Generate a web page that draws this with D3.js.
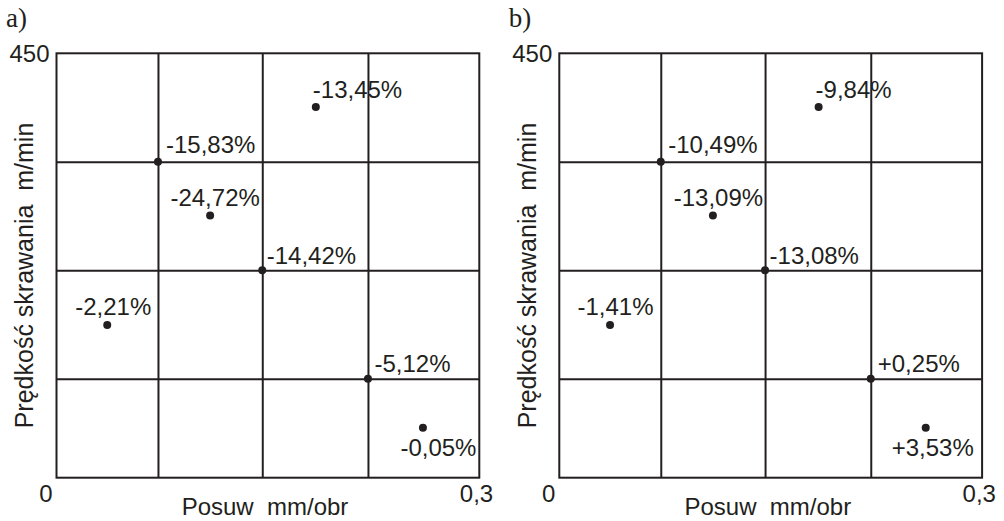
<!DOCTYPE html>
<html>
<head>
<meta charset="utf-8">
<script src="https://cdn.jsdelivr.net/npm/d3@7"></script>
<style>
  html, body { margin: 0; padding: 0; background: #fff; }
  svg { display: block; }
  text { font-family: "Liberation Sans", Arial, sans-serif; fill: #231f20; white-space: pre; }
</style>
</head>
<body>
<svg id="chart" width="1004" height="521"></svg>
<script>
// ---- data ----
const panelNames = ["a)", "b)"];
const xDomain = [0, 0.3];
const yDomain = [0, 450];
const xTickLabels = ["0", "0,3"];
const yTickLabels = ["450"];
const xTitle = "Posuw  mm/obr";
const yTitle = "Prędkość skrawania  m/min";
const gridFeed = [0.072, 0.146, 0.221];
const gridSpeed = [105, 220, 335];
const feed  = [0.072, 0.184, 0.109, 0.146, 0.036, 0.221, 0.260];
const speed = [335,   393,   278,   220,   162,   105,   53];
const changesA = ["-15,83%", "-13,45%", "-24,72%", "-14,42%", "-2,21%", "-5,12%", "-0,05%"];
const changesB = ["-10,49%", "-9,84%", "-13,09%", "-13,08%", "-1,41%", "+0,25%", "+3,53%"];

// ---- layout / style ----
const ink = "#231f20";
const panelOffsets = [56.5, 559.3];
const plotW = 422.8, plotTop = 53.3, plotBottom = 477.7;
const fs = 24;
// label placement: [anchor, dx, dy] per point, per panel
const placeA = [["start", 8, -9], ["start", -3, -9.5], ["middle", 5, -10], ["start", 4.5, -6.5],
                ["middle", 6, -10], ["start", 6.5, -6.5], ["middle", 15.5, 28]];
const placeB = [["start", 7.5, -9], ["start", -3, -9.5], ["middle", 5.5, -10], ["start", 4.5, -6.5],
                ["middle", 5.5, -10], ["start", 7, -6.5], ["middle", 7, 28]];

const svg = d3.select("#chart");
const panels = [
  { name: panelNames[0], labels: changesA, place: placeA, x0: panelOffsets[0] },
  { name: panelNames[1], labels: changesB, place: placeB, x0: panelOffsets[1] }
];

panels.forEach(p => {
  const x = d3.scaleLinear().domain(xDomain).range([p.x0, p.x0 + plotW]);
  const y = d3.scaleLinear().domain(yDomain).range([plotBottom, plotTop]);
  const g = svg.append("g");

  // frame
  g.append("rect")
    .attr("x", x(xDomain[0])).attr("y", y(yDomain[1]))
    .attr("width", x(xDomain[1]) - x(xDomain[0]))
    .attr("height", y(yDomain[0]) - y(yDomain[1]))
    .attr("fill", "none").attr("stroke", ink).attr("stroke-width", 2);

  // grid via axes
  const gx = g.append("g").attr("transform", `translate(0,${plotBottom})`)
    .call(d3.axisBottom(x).tickValues(gridFeed).tickSize(-(plotBottom - plotTop)).tickFormat(""));
  const gy = g.append("g").attr("transform", `translate(${p.x0},0)`)
    .call(d3.axisLeft(y).tickValues(gridSpeed).tickSize(-plotW).tickFormat(""));
  [gx, gy].forEach(a => {
    a.select(".domain").remove();
    a.selectAll(".tick line").attr("stroke", ink).attr("stroke-width", 2);
  });

  // tick labels
  g.append("text").attr("x", x(xDomain[0]) - 4).attr("y", 502)
    .attr("text-anchor", "end").attr("font-size", fs).text(xTickLabels[0]);
  g.append("text").attr("x", x(xDomain[1]) - 19.5).attr("y", 502)
    .attr("text-anchor", "start").attr("font-size", fs).text(xTickLabels[1]);
  g.append("text").attr("x", x(xDomain[0]) - 7).attr("y", y(yDomain[1]) + 8.5)
    .attr("text-anchor", "end").attr("font-size", fs).text(yTickLabels[0]);

  // axis titles
  g.append("text").attr("x", p.x0 + 208.5).attr("y", 515)
    .attr("text-anchor", "middle").attr("font-size", fs).text(xTitle);
  g.append("text")
    .attr("transform", `translate(${p.x0 - 23.5},${(plotTop + plotBottom) / 2 + 10}) rotate(-90)`)
    .attr("text-anchor", "middle").attr("font-size", 25).text(yTitle);

  // panel letter
  g.append("text").attr("x", p.x0 - 50.5).attr("y", 27)
    .style("font-family", "'Liberation Serif', 'Times New Roman', serif")
    .attr("font-size", 27).text(p.name);

  // points
  const pts = feed.map((f, i) => ({ f, s: speed[i], label: p.labels[i], pl: p.place[i] }));
  g.selectAll("circle.pt").data(pts).join("circle")
    .attr("class", "pt")
    .attr("cx", d => x(d.f)).attr("cy", d => y(d.s)).attr("r", 4).attr("fill", ink);
  g.selectAll("text.lbl").data(pts).join("text")
    .attr("class", "lbl")
    .attr("x", d => x(d.f) + d.pl[1]).attr("y", d => y(d.s) + d.pl[2])
    .attr("text-anchor", d => d.pl[0]).attr("font-size", fs).text(d => d.label);
});
</script>
</body>
</html>
